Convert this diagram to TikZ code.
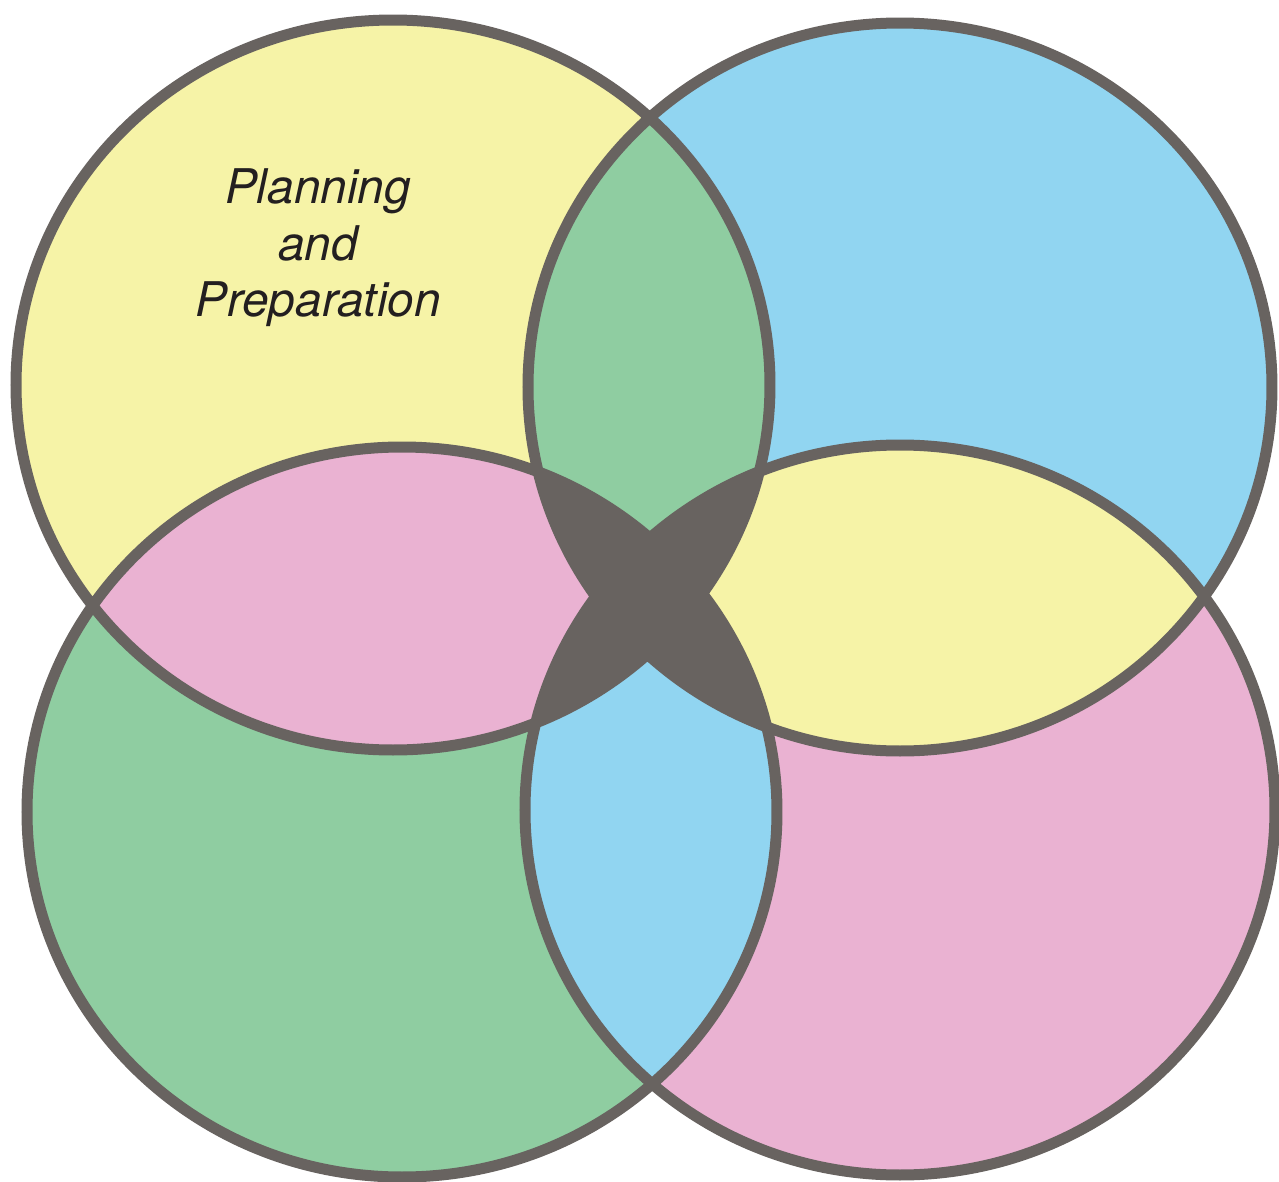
\documentclass[tikz,border=0pt]{standalone}
\usepackage{fontspec}
\newfontfamily\heros{TeX Gyre Heros}
\usepackage{tikz}
\definecolor{vyellow}{HTML}{F6F3A7}
\definecolor{vblue}{HTML}{91D5F1}
\definecolor{vgreen}{HTML}{8FCDA1}
\definecolor{vpink}{HTML}{EAB2D2}
\definecolor{vdark}{HTML}{686360}
\definecolor{vtext}{HTML}{231F20}

\begin{document}
\begin{tikzpicture}[x=0.1mm,y=-0.1mm,line width=1.1mm]
    \useasboundingbox (0,0) rectangle (1279,1182);
    \coordinate (tl) at (393,385);
    \coordinate (tr) at (900,387);
    \coordinate (bl) at (402,812);
    \coordinate (br) at (900,810);
    \def\ringTL{(tl) ellipse [x radius=377,y radius=365]}
    \def\ringTR{(tr) ellipse [x radius=372,y radius=364]}
    \def\ringBL{(bl) ellipse [x radius=375,y radius=365]}
    \def\ringBR{(br) ellipse [x radius=375,y radius=365]}
    \fill[vyellow] \ringTL;
    \fill[vblue] \ringTR;
    \fill[vgreen] \ringBL;
    \fill[vpink] \ringBR;
    \begin{scope} \clip \ringTL; \fill[vgreen] \ringTR; \fill[vpink] \ringBL; \end{scope}
    \begin{scope} \clip \ringBR; \fill[vyellow] \ringTR; \fill[vblue] \ringBL; \end{scope}
    \begin{scope} \clip \ringTL; \fill[vdark] \ringBR; \end{scope}
    \begin{scope} \clip \ringTR; \fill[vdark] \ringBL; \end{scope}
    \draw[vdark] \ringTL \ringTR \ringBL \ringBR;
    \node[align=center,inner sep=0pt,text=vtext,font=\heros\itshape\fontsize{13.6}{16.1}\selectfont] (plan) at (318,248) {Planning\\and\\Preparation};
\end{tikzpicture}
\end{document}
